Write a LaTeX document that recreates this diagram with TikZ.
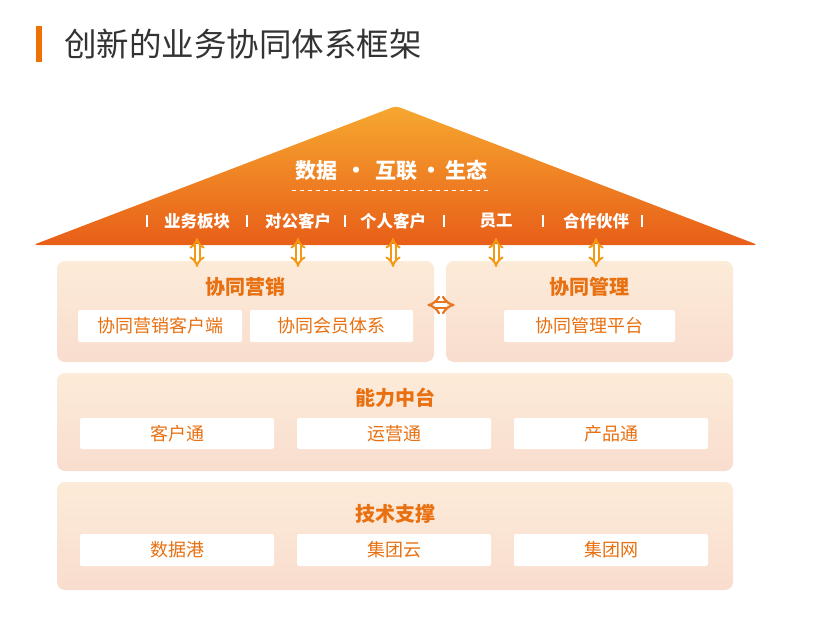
\documentclass[tikz,border=0pt]{standalone}
\usepackage{fontspec}
\setmainfont{Noto Sans CJK SC}
\usetikzlibrary{arrows.meta}

\definecolor{roofTop}{RGB}{246,168,48}
\definecolor{roofBot}{RGB}{232,94,24}
\definecolor{panelTop}{RGB}{252,235,216}
\definecolor{panelBot}{RGB}{249,221,207}
\definecolor{txtOrange}{RGB}{232,112,16}
\definecolor{arrowYel}{RGB}{242,154,22}
\definecolor{arrowOr}{RGB}{232,118,34}
\definecolor{titleGray}{RGB}{51,51,51}
\definecolor{barOrange}{RGB}{238,114,3}

\newcommand{\sepdot}[1]{\makebox[#1]{\fontsize{22}{22}\selectfont •}}

\tikzset{every picture/.style={line width=0.75pt}}
\tikzset{
	panel/.style={rounded corners=8pt, top color=panelTop, bottom color=panelBot, draw=none, inner sep=0pt},
	cell/.style={rounded corners=2pt, fill=white, inner sep=0pt, text=txtOrange, font=\fontsize{18}{18}\selectfont},
	head/.style={inner sep=0pt, text=txtOrange, font=\fontsize{20}{20}\selectfont\bfseries},
	roofitem/.style={inner sep=0pt, text=white, font=\fontsize{16.5}{16.5}\selectfont\bfseries},
	updown/.style={draw=arrowYel, double=white, double distance=3pt, line width=2pt, {Implies[scale=1.3]}-{Implies[scale=1.3]}},
	leftright/.style={draw=arrowOr, double=white, double distance=4pt, line width=2.2pt, {Implies[scale=1.2]}-{Implies[scale=1.2]}}
}

\begin{document}
\begin{tikzpicture}[x=1pt,y=1pt,yscale=-1]
			\useasboundingbox (0,0) rectangle (813,616);
			\fill [barOrange] (36,26) rectangle (42,62);
			\node [anchor=west, inner sep=0pt, text=titleGray, font=\fontsize{32.5}{32.5}\selectfont] (title) at (64,44) {创新的业务协同体系框架};
			\shade [top color=roofTop, bottom color=roofBot, rounded corners=4pt] (33,245) -- (396,106) -- (758,245) -- cycle;
			\node [roofitem, font=\fontsize{21}{21}\selectfont\bfseries] (slogan) at (391,171) {数据\sepdot{38pt}互联\sepdot{28pt}生态};
			\draw [white, dash pattern=on 4pt off 4pt, line width=0.8pt] (292,190) -- (490,190);
			\foreach \x/\name/\txt in {197/biz/业务板块, 298/corp/对公客户, 393/pers/个人客户, 496/staff/员工, 596/partner/合作伙伴}
				\node [roofitem] (\name) at (\x,221) {\txt};
			\foreach \x in {147,247,345,444,543,642}
				\draw [white, line width=1.8pt] (\x,215) -- (\x,227);
			\node [panel, minimum width=377pt, minimum height=101pt] (mkt) at (245.5,311.5) {};
			\node [panel, minimum width=287pt, minimum height=101pt] (mgmt) at (589.5,311.5) {};
			\node [panel, minimum width=676pt, minimum height=98pt] (mid) at (395,422) {};
			\node [panel, minimum width=676pt, minimum height=108pt] (tech) at (395,536) {};
			\foreach \name in {biz,corp,pers,staff,partner}
				\draw [updown] (\name.center |- 0,238) -- (\name.center |- 0,267);
			\draw [leftright] ([shift={(-7,-6.5)}]mkt.east) -- ([shift={(9,-6.5)}]mgmt.west);
			\node [head] (mktHead) at (245.5,287) {协同营销};
			\node [head] (mgmtHead) at (589,287) {协同管理};
			\node [head] (midHead) at (395,398) {能力中台};
			\node [head] (techHead) at (395,514) {技术支撑};
			\node [cell, minimum width=164pt, minimum height=32pt] (mktApp) at (160,326) {协同营销客户端};
			\node [cell, minimum width=163pt, minimum height=32pt] (member) at (331.5,326) {协同会员体系};
			\node [cell, minimum width=171pt, minimum height=32pt] (mgmtPf) at (589.5,326) {协同管理平台};
			\foreach \x/\name/\txt in {177/cust/客户通, 394/ops/运营通, 611/prod/产品通}
				\node [cell, minimum width=194pt, minimum height=31pt] (\name) at (\x,433.5) {\txt};
			\foreach \x/\name/\txt in {177/port/数据港, 394/cloud/集团云, 611/net/集团网}
				\node [cell, minimum width=194pt, minimum height=32pt] (\name) at (\x,550) {\txt};
		\end{tikzpicture}
\end{document}
